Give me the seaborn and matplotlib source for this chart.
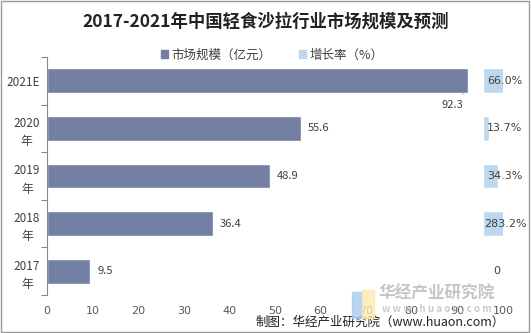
import matplotlib
matplotlib.use("Agg")
import matplotlib.pyplot as plt
import matplotlib.patches as mpatches
import matplotlib.transforms as mtrans
import seaborn as sns
import pandas as pd

categories = ["2021E", "2020\n年", "2019\n年", "2018\n年", "2017\n年"]
market = [92.3, 55.6, 48.9, 36.4, 9.5]
growth = [66.0, 13.7, 34.3, 283.2, 0.0]
growth_labels = ["66.0%", "13.7%", "34.3%", "283.2%", "0"]
xticks = [0, 10, 20, 30, 40, 50, 60, 70, 80, 90, 100]

sns.set_theme(style="white")
plt.rcParams['font.family'] = ['Noto Sans CJK SC', 'DejaVu Sans']

BAR = "#737FA3"
GROW = "#BDD7EE"

df = pd.DataFrame({"cat": categories, "market": market, "growth": growth})

fig = plt.figure(figsize=(5.31, 3.33), dpi=100)
W, H = 531, 333
ax = fig.add_axes([47 / W, (H - 295) / H, (503 - 47) / W, (295 - 57) / H])

sns.barplot(data=df, x="market", y="cat", orient="h", color=BAR, width=0.52,
            saturation=1, ax=ax)

# growth on secondary axis
ax2 = ax.twiny()
sns.barplot(data=df, x="growth", y="cat", orient="h", color=GROW, width=0.52,
            saturation=1, ax=ax2)
ax2.set_xlim(-991, 45)
ax2.set_xticks([])
ax2.set_xlabel("")
ax2.set_ylabel("")
for s in ["top", "right", "bottom", "left"]:
    ax2.spines[s].set_visible(False)

ax.set_xlim(0, 100)
ax.set_ylim(4.5, -0.5)
ax.set_xlabel("")
ax.set_ylabel("")
ax.set_xticks(xticks)
ax.set_xticklabels([str(t) for t in xticks], fontsize=8, color="#595959",
                   family=['DejaVu Sans'])
ax.tick_params(axis="x", length=0, pad=8)
ax.set_yticks(range(len(categories)))
ax.set_yticklabels(categories, fontsize=8.5, color="#404040", linespacing=1.5,
                   multialignment="center")
ax.tick_params(axis="y", which="major", length=0, pad=5)
ax.set_yticks([i - 0.5 for i in range(len(categories) + 1)], minor=True)
ax.tick_params(axis="y", which="minor", length=4, color="#888888", width=0.8, left=True)
for s in ["top", "right", "bottom"]:
    ax.spines[s].set_visible(False)
ax.spines["left"].set_color("#888888")
ax.spines["left"].set_linewidth(0.8)

# market labels
for i, v in enumerate(market):
    if v > 85:
        ax.annotate(f"{v}", xy=(v - 0.5, i + 0.22), xytext=(v - 3.5, i + 0.5),
                    fontsize=8, color="#404040", ha="center", va="center",
                    arrowprops=dict(arrowstyle="-", color="#BBBBBB", lw=0.7))
    else:
        ax.text(v + 1.5, i, f"{v}", fontsize=8, color="#404040", ha="left", va="center")

trans = mtrans.blended_transform_factory(fig.transFigure, ax2.transData)
for i, lab in enumerate(growth_labels):
    xpix = 497 if lab == "0" else 505
    ax2.text(xpix / W, i, lab, transform=trans, fontsize=8, color="#404040",
             ha="center", va="center", family=['DejaVu Sans'], zorder=10, clip_on=False)

# title and legend
fig.text(0.5, (H - 22) / H, "2017-2021年中国轻食沙拉行业市场规模及预测", ha="center", va="center",
         fontsize=12.5, fontweight="bold", color="#222222")
handles = [mpatches.Patch(color=BAR, label="市场规模（亿元）"),
           mpatches.Patch(color=GROW, label="增长率（%）")]
fig.legend(handles=handles, loc="center", bbox_to_anchor=(272 / W, (H - 55) / H), ncol=2,
           frameon=False, fontsize=9, handlelength=0.55, handleheight=0.55,
           handletextpad=0.3, columnspacing=2.2, labelcolor="#404040")

# watermark
fig.patches.append(mpatches.Rectangle((352 / W, (H - 318) / H), 10 / W, 26 / H,
                                      transform=fig.transFigure, color="#A9CBF2", alpha=0.8, zorder=5))
fig.patches.append(mpatches.Rectangle((362 / W, (H - 318) / H), 12 / W, 28 / H,
                                      transform=fig.transFigure, color="#FCEBAE", alpha=0.8, zorder=5))
fig.text(437 / W, (H - 293) / H, "华经产业研究院", ha="center", va="center", fontsize=12,
         fontweight="bold", color="#BFBFBF", alpha=0.9, zorder=6)
fig.text(437 / W, (H - 309) / H, "w w w . h u a o n . c o m", ha="center", va="center",
         fontsize=7, fontweight="bold", color="#BFBFBF", alpha=0.8, zorder=6)

# source
fig.text(505 / W, (H - 322) / H, "制图：华经产业研究院（www.huaon.com）", ha="right", va="center",
         fontsize=9, color="#222222")

# outer frame
fig.patches.append(mpatches.Rectangle((0.002, 0.003), 0.995, 0.994, transform=fig.transFigure,
                                      fill=False, edgecolor="#999999", lw=1))

fig.savefig("out.png", dpi=100)
